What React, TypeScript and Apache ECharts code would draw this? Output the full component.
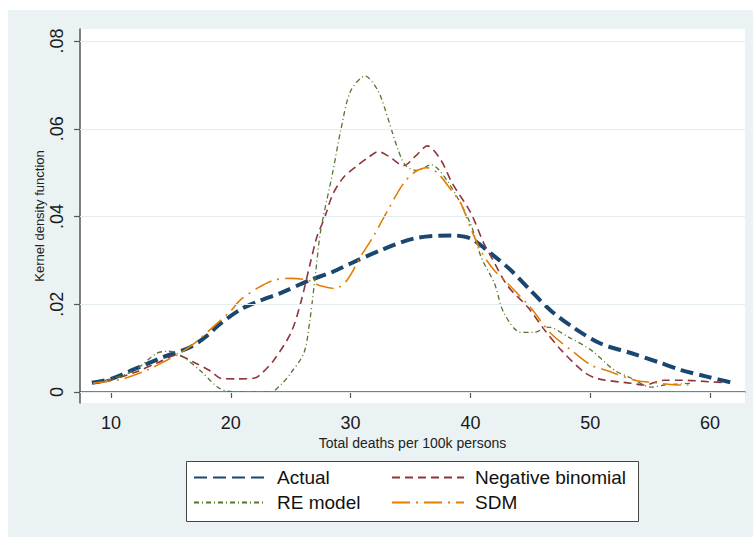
import React, { useEffect, useRef } from "react";
import * as echarts from "echarts";

const xTicks = [10, 20, 30, 40, 50, 60];
const yTicks = [0, 0.02, 0.04, 0.06, 0.08];
const seriesNames = ["Actual", "Negative binomial", "RE model", "SDM"];

const actual: [number, number][] = [
  [8.4, 0.0021], [10, 0.003], [11.6, 0.0048], [13, 0.0064], [14.4, 0.008], [16.6, 0.0102],
  [18, 0.0128], [19.1, 0.0155], [20.8, 0.0188], [22.5, 0.0209], [24.1, 0.0225], [26.6, 0.0255],
  [28.5, 0.0274], [30, 0.0293], [32.5, 0.0323], [35.3, 0.035], [38.4, 0.0357], [40, 0.035],
  [41.7, 0.0316], [43.4, 0.0277], [45, 0.0232], [46.7, 0.0186], [48.7, 0.0145], [50.9, 0.011],
  [53.4, 0.0089], [55.7, 0.0068], [57.6, 0.005], [59.9, 0.0034], [61.9, 0.0021],
];

const negBinomial: [number, number][] = [
  [8.6, 0.002], [10, 0.0028], [12, 0.0045], [14, 0.0068], [15.5, 0.0084], [16.9, 0.0068],
  [18.3, 0.0048], [19.2, 0.0031], [20.5, 0.003], [22, 0.0032], [22.6, 0.0043], [23.6, 0.0073],
  [25, 0.0134], [25.8, 0.02], [26.6, 0.029], [27.2, 0.0355], [27.8, 0.0395], [28.5, 0.045],
  [29.4, 0.0489], [30.5, 0.0515], [31.5, 0.0535], [32.3, 0.0548], [33.3, 0.0535], [34.4, 0.0516],
  [35.5, 0.054], [36.4, 0.0561], [37.5, 0.053], [38.5, 0.0475], [40, 0.041], [41.1, 0.034],
  [41.7, 0.031], [43.1, 0.0242], [44.8, 0.0193], [46.2, 0.0141], [47.6, 0.0095], [49.5, 0.0045],
  [50.7, 0.003], [53.4, 0.002], [54.5, 0.0016], [56.2, 0.0027], [57.6, 0.0027], [60.2, 0.0023],
  [61, 0.0022],
];

const reModel: [number, number][] = [
  [8.5, 0.002], [10, 0.003], [12, 0.005], [13.8, 0.0088], [14.8, 0.0093], [15.8, 0.0084],
  [17.4, 0.005], [18.9, 0.0011], [19.7, 0.0002], [21, 0], [23.3, 0], [24.3, 0.002], [25, 0.0043],
  [26.1, 0.0089], [26.6, 0.0164], [27.1, 0.0277], [27.5, 0.0368], [28.5, 0.05], [29.2, 0.06],
  [30, 0.0686], [31.2, 0.072], [32.3, 0.0686], [33.1, 0.0625], [33.9, 0.0557], [34.6, 0.0516],
  [35.6, 0.0505], [36.7, 0.0518], [38.1, 0.048], [40, 0.0384], [40.9, 0.0307], [42, 0.0248],
  [42.8, 0.018], [44.2, 0.0136], [45.3, 0.0136], [46.5, 0.0148], [48.2, 0.0125], [50.1, 0.0095],
  [52, 0.005], [53.4, 0.0032], [55.1, 0.0011], [56.2, 0.0016], [58.5, 0.002],
];

const sdm: [number, number][] = [
  [8.5, 0.002], [10, 0.0025], [11, 0.003], [13, 0.005], [14.7, 0.0073], [15.5, 0.0084],
  [17, 0.0112], [18.5, 0.0148], [20, 0.0185], [20.8, 0.021], [22.3, 0.0238], [23.6, 0.0255],
  [25, 0.0259], [26.4, 0.0255], [27.5, 0.0242], [28.7, 0.0236], [29.7, 0.0255], [30.8, 0.0307],
  [31.9, 0.0355], [33.1, 0.0414], [34.4, 0.0475], [35.4, 0.0502], [36.4, 0.0511], [37.3, 0.0498],
  [38.4, 0.046], [39.2, 0.043], [40, 0.0375], [40.9, 0.032], [42, 0.0277], [43.2, 0.0245],
  [45, 0.0193], [46.7, 0.0134], [48.7, 0.0089], [50.1, 0.0061], [51.5, 0.0048], [53.7, 0.0027],
  [54.8, 0.0023], [57.6, 0.0016], [58.2, 0.0016],
];

const FONT = "'Liberation Sans', Arial, sans-serif";

export default function App() {
  const ref = useRef<HTMLDivElement>(null);
  useEffect(() => {
    const chart = echarts.init(ref.current!, null, { renderer: "svg" });
    const axisColor = "#555";
    const lineDef = (name: string, data: [number, number][], color: string, width: number, dash: number[]) => ({
      name,
      type: "line",
      data,
      smooth: 0.3,
      showSymbol: false,
      symbol: "none",
      silent: true,
      z: 3,
      lineStyle: { color, width, type: dash, cap: "butt" },
      itemStyle: { color },
      emphasis: { disabled: true },
    });
    const legendBase = {
      orient: "vertical",
      top: 458,
      padding: 0,
      itemWidth: 72,
      itemHeight: 20,
      itemGap: 6,
      selectedMode: false,
      itemStyle: { opacity: 0 },
      textStyle: { fontSize: 19, color: "#111", fontFamily: FONT, padding: [0, 0, 0, 6] },
    };
    chart.setOption({
      animation: false,
      backgroundColor: "transparent",
      textStyle: { fontFamily: FONT },
      grid: {
        left: 72,
        top: 19,
        width: 665,
        height: 374,
        show: true,
        backgroundColor: "#ffffff",
        borderWidth: 0,
      },
      xAxis: {
        type: "value",
        min: 7.41,
        max: 62.92,
        name: "Total deaths per 100k persons",
        nameLocation: "middle",
        nameGap: 40,
        nameMoveOverlap: false,
        nameTextStyle: { fontSize: 14, color: "#222", fontFamily: FONT, verticalAlign: "middle", lineHeight: 14 },
        axisLine: { show: true, lineStyle: { color: axisColor, width: 1.5 } },
        axisTick: { show: true, customValues: xTicks, length: 6, lineStyle: { color: axisColor, width: 1.2 } },
        axisLabel: {
          customValues: xTicks,
          fontSize: 18,
          lineHeight: 16,
          color: "#1a1a1a",
          margin: 12,
          fontFamily: FONT,
        },
        splitLine: { show: false },
      },
      yAxis: {
        type: "value",
        min: -0.0025,
        max: 0.08274,
        name: "Kernel density function",
        nameLocation: "middle",
        nameGap: 41,
        nameMoveOverlap: false,
        nameTextStyle: { fontSize: 13, color: "#222", fontFamily: FONT, verticalAlign: "middle", lineHeight: 13 },
        axisLine: { show: true, lineStyle: { color: axisColor, width: 1.5 } },
        axisTick: { show: true, customValues: yTicks, length: 6, lineStyle: { color: axisColor, width: 1.2 } },
        axisLabel: {
          customValues: yTicks,
          rotate: 90,
          fontSize: 18,
          color: "#1a1a1a",
          margin: 14,
          fontFamily: FONT,
          formatter: (v: number) => (v === 0 ? "0" : "." + String(Math.round(v * 100)).padStart(2, "0")),
        },
        splitLine: { show: false },
      },
      legend: [
        { ...legendBase, data: [seriesNames[0], seriesNames[2]], left: 185 },
        { ...legendBase, data: [seriesNames[1], seriesNames[3]], left: 383 },
      ],
      graphic: [
        {
          type: "rect",
          left: 178,
          top: 451,
          z: -1,
          shape: { width: 452, height: 60 },
          style: { fill: "#ffffff", stroke: "#444", lineWidth: 1 },
        },
      ],
      series: [
        {
          name: "grid",
          type: "line",
          data: [],
          silent: true,
          z: 1,
          markLine: {
            silent: true,
            symbol: "none",
            label: { show: false },
            lineStyle: { color: "#e3ecee", width: 1, type: "solid" },
            emphasis: { disabled: true },
            data: yTicks.map((v) => ({ yAxis: v })),
          },
        },
        lineDef(seriesNames[0], actual, "#1a476f", 4, [13, 6]),
        lineDef(seriesNames[1], negBinomial, "#90353b", 1.6, [8, 5]),
        lineDef(seriesNames[2], reModel, "#55752f", 1.3, [5, 3, 1, 3]),
        lineDef(seriesNames[3], sdm, "#e37e00", 1.6, [18, 6, 2, 6]),
      ],
    });
    return () => chart.dispose();
  }, []);
  return (
    <div style={{ position: "absolute", left: 0, top: 0, width: 753, height: 537, background: "#fff" }}>
      <div
        ref={ref}
        style={{ position: "absolute", left: 8, top: 10, width: 745, height: 527, background: "#eaf2f3" }}
      />
    </div>
  );
}
